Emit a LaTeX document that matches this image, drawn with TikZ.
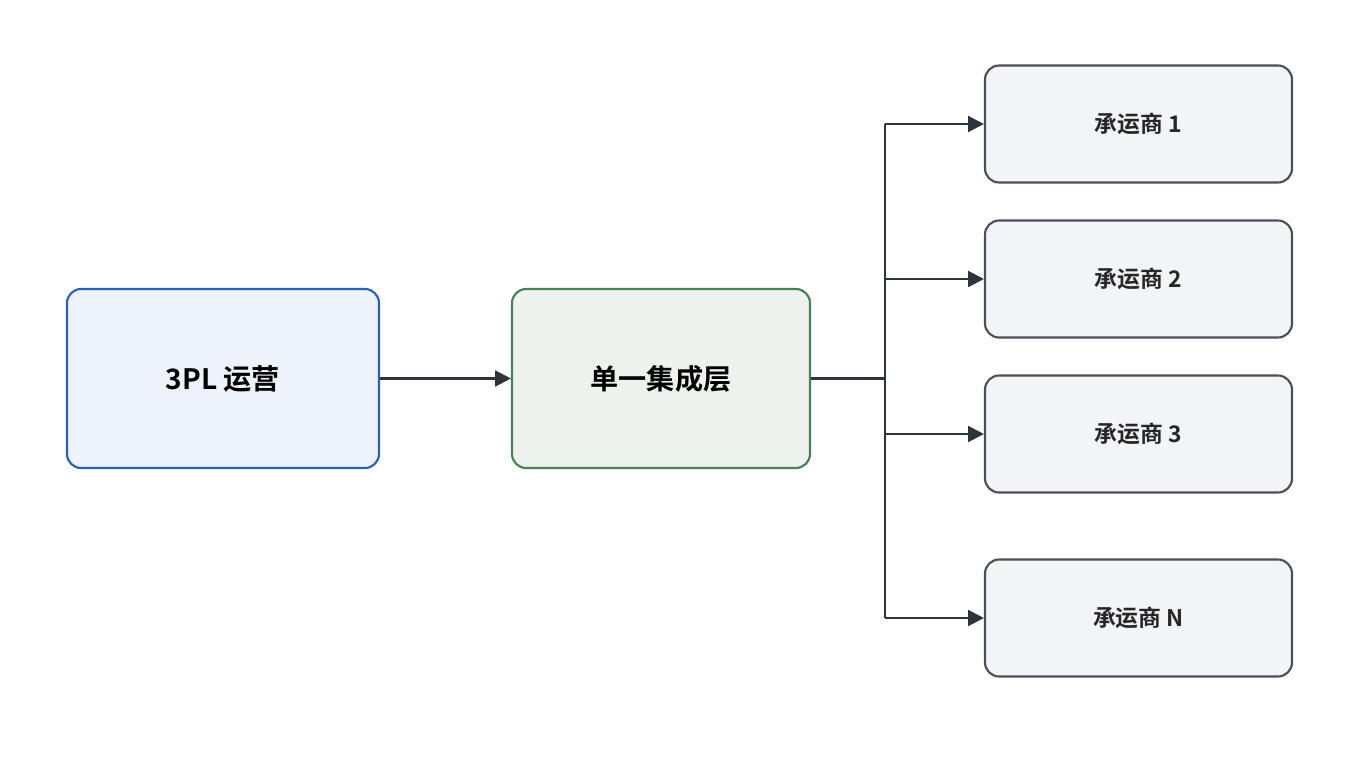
\documentclass[tikz,border=0pt]{standalone}
\usepackage{fontspec}
\setmainfont{Noto Sans CJK SC}[BoldFont={* Bold}]
\usetikzlibrary{arrows.meta,positioning}
\definecolor{opsfill}{HTML}{EEF2FB}
\definecolor{opsline}{HTML}{2B5FB8}
\definecolor{hubfill}{HTML}{EDF2EE}
\definecolor{hubline}{HTML}{4A7F5A}
\definecolor{carfill}{HTML}{F3F4F6}
\definecolor{carline}{HTML}{4B5058}
\definecolor{wire}{HTML}{2E343B}
\tikzset{
  box/.style={draw,rounded corners=8pt,line width=1.2pt,font=\bfseries},
  carrier/.style={box,fill=carfill,draw=carline,minimum width=307*0.02cm,minimum height=117*0.02cm,font=\bfseries\fontsize{13}{15}\selectfont,text=black!85},
  link/.style={draw=wire,line width=1.3pt,-{Triangle[length=9pt,width=9pt]}}
}
\begin{document}
\begin{tikzpicture}[x=0.02cm,y=-0.02cm]
\useasboundingbox[fill=white] (0,0) rectangle (1360,768);
\node[box,fill=opsfill,draw=opsline,minimum width=312*0.02cm,minimum height=179*0.02cm,font=\bfseries\fontsize{16}{18}\selectfont] (ops) at (223,378.5) {3PL 运营};
\node[box,fill=hubfill,draw=hubline,minimum width=298*0.02cm,minimum height=179*0.02cm,font=\bfseries\fontsize{16}{18}\selectfont] (hub) at (661,378.5) {单一集成层};
\node[carrier] (c1) at (1138.5,124) {承运商 1};
\node[carrier] (c2) at (1138.5,279) {承运商 2};
\node[carrier] (c3) at (1138.5,434) {承运商 3};
\node[carrier] (cn) at (1138.5,618) {承运商 N};
\coordinate (split) at (885,378.5);
\draw[link] (ops) -- (hub);
\draw[draw=wire,line width=1.3pt] (hub.east) -- (split);
\draw[draw=wire,line width=1.3pt] (885,124) -- (885,618);
\foreach \c in {c1,c2,c3,cn}
  \draw[link] (split |- \c) -- (\c.west);
\end{tikzpicture}
\end{document}
